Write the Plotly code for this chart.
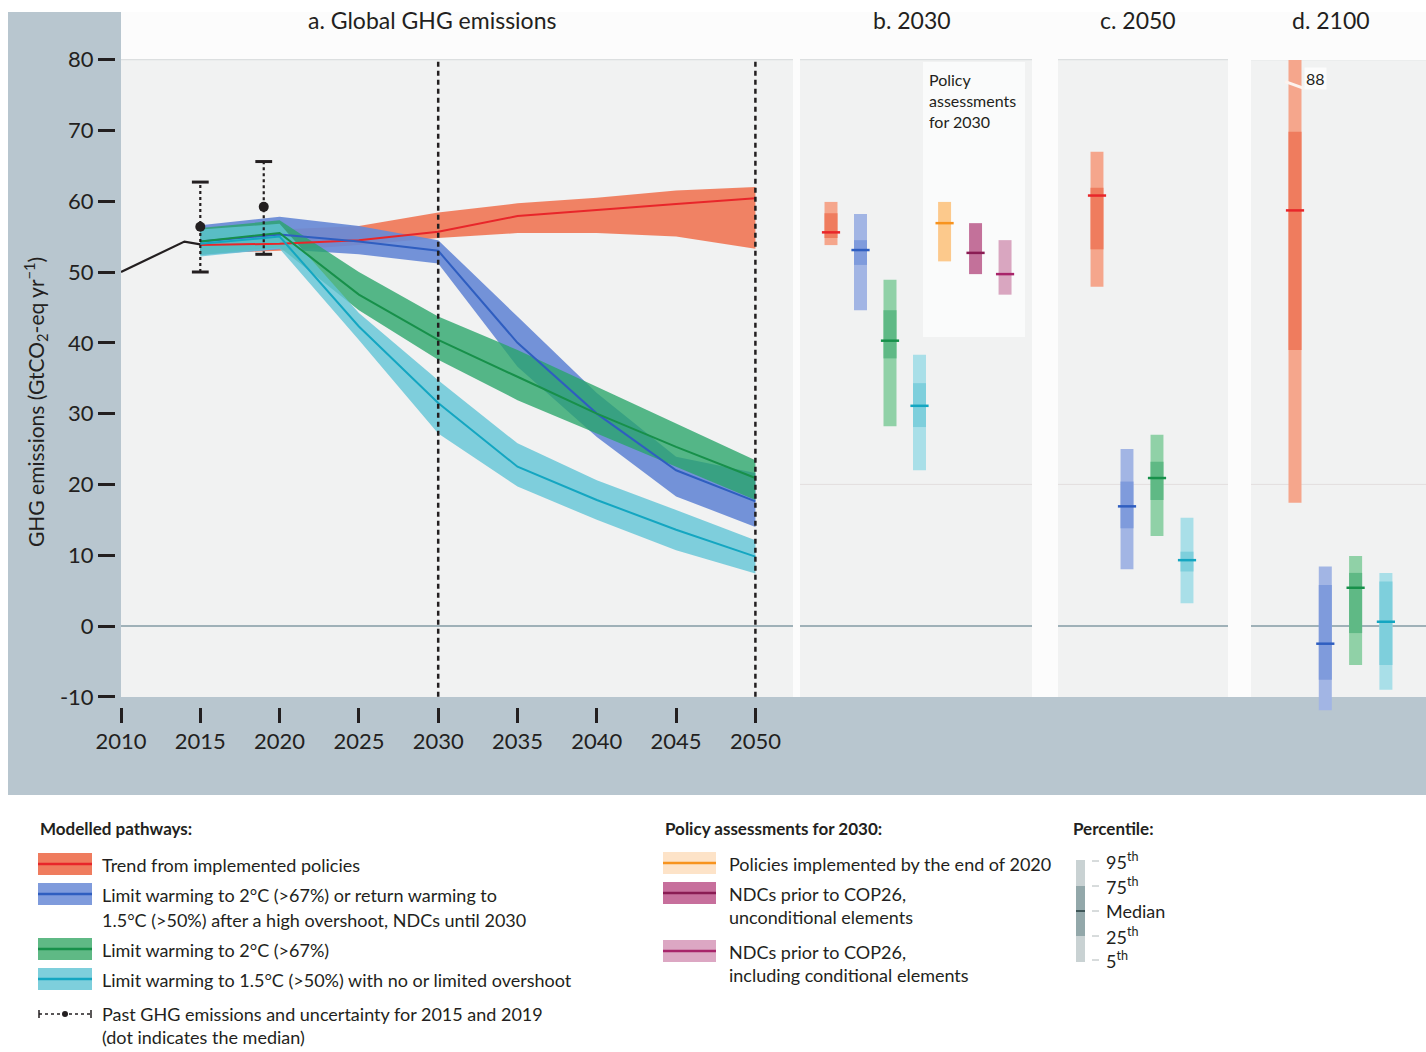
import plotly.graph_objects as go

# ---------------------------------------------------------------- data
hist_years = [2010, 2011, 2012, 2013, 2014, 2015]
hist_ghg = [50.0, 51.1, 52.2, 53.3, 54.3, 53.9]

unc_years = [2015, 2019]
unc_median = [56.4, 59.2]
unc_low = [50.0, 52.5]
unc_high = [62.7, 65.6]

path_years = [2015, 2020, 2025, 2030, 2035, 2040, 2045, 2050]

trend_med = [53.8, 54.0, 54.5, 55.7, 57.9, 58.8, 59.6, 60.4]
trend_lo = [52.6, 53.0, 53.8, 54.8, 55.5, 55.5, 55.0, 53.3]
trend_hi = [55.2, 56.0, 56.5, 58.4, 59.7, 60.5, 61.5, 62.0]

ndc2c_med = [54.3, 55.3, 54.3, 53.0, 40.0, 30.0, 22.0, 17.6]
ndc2c_lo = [52.4, 53.2, 52.5, 51.2, 36.6, 26.7, 18.3, 14.0]
ndc2c_hi = [56.6, 57.8, 56.5, 54.5, 43.7, 32.9, 23.9, 21.6]

c2_med = [54.3, 55.5, 46.8, 40.4, 35.2, 30.0, 25.3, 20.9]
c2_lo = [52.4, 53.5, 44.6, 37.6, 31.9, 27.2, 22.5, 17.8]
c2_hi = [56.2, 57.3, 50.0, 43.7, 39.0, 33.8, 28.6, 23.4]

c15_med = [54.0, 55.0, 42.3, 31.5, 22.5, 17.8, 13.6, 9.8]
c15_lo = [52.2, 53.3, 40.4, 27.2, 19.7, 15.0, 10.7, 7.4]
c15_hi = [56.0, 56.8, 44.2, 34.7, 25.8, 20.6, 16.4, 12.1]

# 2030 ranges: modelled pathways + policy assessments
b_p95 = [59.9, 58.2, 48.9, 38.3, 59.9, 56.9, 54.5]
b_p75 = [58.3, 54.5, 44.6, 34.3, None, None, None]
b_med = [55.6, 53.1, 40.3, 31.1, 56.9, 52.7, 49.7]
b_p25 = [54.8, 51.0, 37.8, 28.1, None, None, None]
b_p5 = [53.8, 44.6, 28.2, 22.0, 51.5, 49.7, 46.8]

# 2050 ranges
c_p95 = [67.0, 25.0, 27.0, 15.3]
c_p75 = [61.9, 20.4, 23.2, 10.5]
c_med = [60.8, 16.9, 20.9, 9.3]
c_p25 = [53.2, 13.8, 17.8, 7.7]
c_p5 = [47.9, 8.0, 12.7, 3.2]

# 2100 ranges
d_p95 = [88.0, 8.4, 9.9, 7.5]
d_p75 = [69.8, 5.8, 7.5, 6.3]
d_med = [58.7, -2.5, 5.4, 0.6]
d_p25 = [39.0, -7.6, -1.0, -5.5]
d_p5 = [17.4, -11.9, -5.5, -9.0]

year_ticks = list(range(2010, 2051, 5))
ghg_ticks = list(range(-10, 81, 10))
ghg_ticktext = [str(v) for v in ghg_ticks]

# ---------------------------------------------------------------- styles
W, H = 1426, 1052
FONT = "Lato, 'Open Sans', sans-serif"
INK = "#231f20"
FRAME = "#b8c6cf"
PANEL = "#f1f2f2"

# (light 5-95, dark 25-75, median)
RED = ("#f5a68c", "#ef7c5e", "#e8262a")
BLUE = ("#a2b5e4", "#7f9bdc", "#2f5ec0")
GREEN = ("#90d1a7", "#5fb985", "#17904a")
CYAN = ("#a9dfe8", "#7ecfdc", "#14a6c1")
ORANGE = ("#fcc98c", None, "#f7931e")
PURPLE = ("#c3719a", None, "#8a1b53")
PINK = ("#d9a6c0", None, "#a8246a")

b_styles = [RED, BLUE, GREEN, CYAN, ORANGE, PURPLE, PINK]
cd_styles = [RED, BLUE, GREEN, CYAN]

# slot positions of the range bars within each small panel
b_slots = [0, 1, 2, 3, 3.85, 4.9, 5.9]
cd_slots = [0, 1, 2, 3]


def px(x):
    return x / W


def py(y):
    return 1 - y / H


# vertical scale shared by every panel (pixels per GtCO2-eq)
PX_PER_UNIT = 7.08
ZERO_PX = 626
Y_BOTTOM = (ZERO_PX - 795) / PX_PER_UNIT
Y_TOP = (ZERO_PX - 12) / PX_PER_UNIT
Y_TOP_D = (ZERO_PX - 60) / PX_PER_UNIT

fig = go.Figure()

# ---------------------------------------------------------------- panel a
bands = [
    (trend_lo, trend_hi, trend_med, "rgba(240,120,88,0.92)", RED[2]),
    (ndc2c_lo, ndc2c_hi, ndc2c_med, "rgba(104,138,214,0.92)", BLUE[2]),
    (c2_lo, c2_hi, c2_med, "rgba(40,165,105,0.78)", GREEN[2]),
    (c15_lo, c15_hi, c15_med, "rgba(98,196,214,0.80)", CYAN[2]),
]
for lo, hi, med, fill, lc in bands:
    fig.add_trace(go.Scatter(
        x=path_years + path_years[::-1], y=hi + lo[::-1],
        fill="toself", fillcolor=fill, mode="lines", line=dict(width=0),
        hoverinfo="skip", showlegend=False, xaxis="x", yaxis="y"))
for lo, hi, med, fill, lc in bands:
    fig.add_trace(go.Scatter(
        x=path_years, y=med, mode="lines", line=dict(color=lc, width=2),
        showlegend=False, xaxis="x", yaxis="y"))

# observed emissions
fig.add_trace(go.Scatter(x=hist_years, y=hist_ghg, mode="lines",
                         line=dict(color=INK, width=2.2), showlegend=False,
                         xaxis="x", yaxis="y"))
for yr, lo, hi, med in zip(unc_years, unc_low, unc_high, unc_median):
    fig.add_trace(go.Scatter(x=[yr, yr], y=[lo, hi], mode="lines",
                             line=dict(color=INK, width=2.2, dash="dot"),
                             showlegend=False, xaxis="x", yaxis="y"))
    fig.add_trace(go.Scatter(x=[yr, yr], y=[lo, hi], mode="markers",
                             marker=dict(symbol="line-ew", size=12,
                                         line=dict(color=INK, width=3)),
                             showlegend=False, xaxis="x", yaxis="y"))
    fig.add_trace(go.Scatter(x=[yr], y=[med], mode="markers",
                             marker=dict(symbol="circle", size=10, color=INK),
                             showlegend=False, xaxis="x", yaxis="y"))


# ---------------------------------------------------------------- panels b-d
def range_bar(xa, ya, xpos, width, p5, p25, med, p75, p95, style):
    light, dark, mcol = style
    fig.add_trace(go.Bar(x=[xpos], y=[p95 - p5], base=[p5], width=width,
                         marker=dict(color=light, line=dict(width=0)),
                         showlegend=False, xaxis=xa, yaxis=ya))
    if p25 is not None and dark is not None:
        fig.add_trace(go.Bar(x=[xpos], y=[p75 - p25], base=[p25], width=width,
                             marker=dict(color=dark, line=dict(width=0)),
                             showlegend=False, xaxis=xa, yaxis=ya))
    fig.add_trace(go.Scatter(x=[xpos], y=[med], mode="markers",
                             marker=dict(symbol="line-ew", size=13,
                                         line=dict(color=mcol, width=2.5)),
                             showlegend=False, xaxis=xa, yaxis=ya))


for i in range(len(b_med)):
    range_bar("x2", "y", b_slots[i], 0.44, b_p5[i], b_p25[i], b_med[i],
              b_p75[i], b_p95[i], b_styles[i])
for i in range(len(c_med)):
    range_bar("x3", "y", cd_slots[i], 0.43, c_p5[i], c_p25[i], c_med[i],
              c_p75[i], c_p95[i], cd_styles[i])
for i in range(len(d_med)):
    range_bar("x4", "y2", cd_slots[i], 0.43, d_p5[i], d_p25[i], d_med[i],
              d_p75[i], d_p95[i], cd_styles[i])

# ---------------------------------------------------------------- backgrounds
shapes = []


def rect(x0, y0, x1, y1, fill, layer="below"):
    shapes.append(dict(type="rect", xref="paper", yref="paper",
                       x0=px(x0), x1=px(x1), y0=py(y1), y1=py(y0),
                       fillcolor=fill, line=dict(width=0), layer=layer))


rect(8, 12, 1426, 795, FRAME)
rect(121, 12, 1426, 697, "#fcfcfc")
panels_px = [(121, 793), (800, 1032), (1058, 1228), (1251, 1426)]
for x0, x1 in panels_px:
    rect(x0, 60, x1, 697, PANEL)
rect(923, 62, 1025, 337, "#fafbfb")

panel_refs = [("x", "y"), ("x2", "y"), ("x3", "y"), ("x4", "y2")]

# axis layouts
x_range_a = [2010, 2010 + (793 - 121) / 15.86]
x_range_b = [-(831 - 800) / 29.5, (1032 - 831) / 29.5]
x_range_c = [-(1097 - 1058) / 30.0, (1228 - 1097) / 30.0]
x_range_d = [-(1295 - 1251) / 30.3, (1426 - 1295) / 30.3]
xr = {"x": x_range_a, "x2": x_range_b, "x3": x_range_c, "x4": x_range_d}

for xa, ya in panel_refs:
    # reference lines at 80, 20 (faint) and 0
    for val, col, wd in [(80, "#dcdfe0", 1.2), (20, "#e2dede", 1.0),
                         (0, "#9fb1b8", 2.2)]:
        if xa == "x" and val == 20:
            continue
        shapes.append(dict(type="line", xref=xa, yref=ya,
                           x0=xr[xa][0], x1=xr[xa][1], y0=val, y1=val,
                           line=dict(color=col, width=wd), layer="below"))

# dashed markers for 2030 and 2050
for yr in (2030, 2050):
    shapes.append(dict(type="line", xref="x", yref="y", x0=yr, x1=yr,
                       y0=-10, y1=80,
                       line=dict(color=INK, width=2.5, dash="5px,4px"),
                       layer="above"))

# axis break on the 2100 trend bar
shapes.append(dict(type="line", xref="x4", yref="y2",
                   x0=cd_slots[0] - 0.32, x1=cd_slots[0] + 0.32,
                   y0=76.9, y1=75.9, line=dict(color="#fdf3ee", width=3),
                   layer="above"))

# ---------------------------------------------------------------- annotations
ann = []


def text(x, y, s, size=18, anchor="left", bold=False, **kw):
    if bold:
        s = "<b>" + s + "</b>"
    ann.append(dict(xref="paper", yref="paper", x=px(x), y=py(y), text=s,
                    showarrow=False, xanchor=anchor, yanchor="middle",
                    font=dict(family=FONT, size=size, color=INK), **kw))


text(432, 20, "a. Global GHG emissions", 23, "center")
text(912, 20, "b. 2030", 23, "center")
text(1138, 20, "c. 2050", 23, "center")
text(1331, 20, "d. 2100", 23, "center")
ann.append(dict(xref="paper", yref="paper", x=px(35), y=py(402),
                text="GHG emissions (GtCO<sub>2</sub>-eq yr<sup>−1</sup>)",
                textangle=-90, showarrow=False, xanchor="center",
                yanchor="middle", font=dict(family=FONT, size=21, color=INK)))
ann.append(dict(xref="paper", yref="paper", x=px(927), y=py(100),
                text="Policy<br>assessments<br>for 2030", align="left",
                showarrow=False, xanchor="left", yanchor="middle",
                font=dict(family=FONT, size=16, color=INK)))
ann.append(dict(xref="x4", yref="paper", x=cd_slots[0] + 0.66, y=py(78),
                text=f"{d_p95[0]:.0f}", showarrow=False, xanchor="center",
                yanchor="middle", bgcolor="rgba(253,253,253,0.9)",
                font=dict(family=FONT, size=16, color=INK)))

# ---- legend: modelled pathways
text(38, 828, "Modelled pathways:", 17, bold=True)
legend_a = [
    (RED, 864, ["Trend from implemented policies"]),
    (BLUE, 894, ["Limit warming to 2°C (>67%) or return warming to",
                 "1.5°C (>50%) after a high overshoot, NDCs until 2030"]),
    (GREEN, 949, ["Limit warming to 2°C (>67%)"]),
    (CYAN, 979, ["Limit warming to 1.5°C (>50%) with no or limited overshoot"]),
]
for style, yc, lines in legend_a:
    rect(38, yc - 11, 92, yc + 11, style[1], layer="above")
    shapes.append(dict(type="line", xref="paper", yref="paper", x0=px(38),
                       x1=px(92), y0=py(yc), y1=py(yc),
                       line=dict(color=style[2], width=2.5)))
    for k, ln in enumerate(lines):
        text(100, yc + 1 + 24.5 * k, ln, 18)

# past emissions symbol
yc = 1014
shapes.append(dict(type="line", xref="paper", yref="paper", x0=px(39),
                   x1=px(91), y0=py(yc), y1=py(yc),
                   line=dict(color=INK, width=1.5, dash="dot")))
for xe in (39, 91):
    shapes.append(dict(type="line", xref="paper", yref="paper", x0=px(xe),
                       x1=px(xe), y0=py(yc - 4), y1=py(yc + 4),
                       line=dict(color=INK, width=1.5)))
shapes.append(dict(type="circle", xref="paper", yref="paper", x0=px(62),
                   x1=px(68), y0=py(yc + 3), y1=py(yc - 3), fillcolor=INK,
                   line=dict(width=0)))
text(100, 1014, "Past GHG emissions and uncertainty for 2015 and 2019", 18)
text(100, 1037, "(dot indicates the median)", 18)

# ---- legend: policy assessments
text(663, 828, "Policy assessments for 2030:", 17, bold=True)
legend_b = [
    (ORANGE, "#fde3c8", 863, ["Policies implemented by the end of 2020"]),
    (PURPLE, "#c76f9c", 893, ["NDCs prior to COP26,", "unconditional elements"]),
    (PINK, "#dca7c3", 951, ["NDCs prior to COP26,", "including conditional elements"]),
]
for style, fill, yc, lines in legend_b:
    rect(663, yc - 11, 716, yc + 11, fill, layer="above")
    shapes.append(dict(type="line", xref="paper", yref="paper", x0=px(663),
                       x1=px(716), y0=py(yc), y1=py(yc),
                       line=dict(color=style[2], width=2.5)))
    for k, ln in enumerate(lines):
        text(727, yc + 1 + 23 * k, ln, 18)

# ---- legend: percentile key
text(1071, 828, "Percentile:", 17, bold=True)
rect(1076, 860, 1085, 886, "#c9d2d3", layer="above")
rect(1076, 886, 1085, 936, "#93a8aa", layer="above")
rect(1076, 936, 1085, 962, "#c9d2d3", layer="above")
shapes.append(dict(type="line", xref="paper", yref="paper", x0=px(1076),
                   x1=px(1085), y0=py(911), y1=py(911),
                   line=dict(color="#3f5759", width=2)))
for yl, lab in [(861, "95<sup>th</sup>"), (886, "75<sup>th</sup>"),
                (911, "Median"), (936, "25<sup>th</sup>"),
                (960, "5<sup>th</sup>")]:
    shapes.append(dict(type="line", xref="paper", yref="paper", x0=px(1092),
                       x1=px(1099), y0=py(yl), y1=py(yl),
                       line=dict(color="#b0b8b9", width=1)))
    text(1104, yl, lab, 18)

# ---------------------------------------------------------------- layout
hidden = dict(visible=False, showgrid=False, zeroline=False, type="linear",
              automargin=False)
fig.update_layout(
    width=W, height=H, margin=dict(l=0, r=0, t=0, b=0, autoexpand=False),
    paper_bgcolor="white", plot_bgcolor="rgba(0,0,0,0)",
    font=dict(family=FONT, color=INK), barmode="overlay", showlegend=False,
    xaxis=dict(domain=[px(121), px(793)], range=x_range_a, anchor="free",
               position=py(707), tickvals=year_ticks, ticks="outside",
               ticklen=15, tickwidth=2.5, tickcolor=INK, showgrid=False,
               zeroline=False, showline=False, automargin=False,
               tickfont=dict(family=FONT, size=22, color=INK)),
    yaxis=dict(domain=[py(795), py(12)], range=[Y_BOTTOM, Y_TOP],
               anchor="free", position=px(115), tickvals=ghg_ticks,
               ticktext=ghg_ticktext, ticks="outside", ticklen=17,
               tickwidth=2.5, tickcolor=INK, showgrid=False, zeroline=False,
               showline=False, automargin=False,
               tickfont=dict(family=FONT, size=22, color=INK)),
    xaxis2=dict(domain=[px(800), px(1032)], range=x_range_b, anchor="y", **hidden),
    xaxis3=dict(domain=[px(1058), px(1228)], range=x_range_c, anchor="y", **hidden),
    xaxis4=dict(domain=[px(1251), px(1426)], range=x_range_d, anchor="y2", **hidden),
    yaxis2=dict(domain=[py(795), py(60)], range=[Y_BOTTOM, Y_TOP_D],
                anchor="x4", **hidden),
    shapes=shapes, annotations=ann,
)

fig.write_html("out.html")
